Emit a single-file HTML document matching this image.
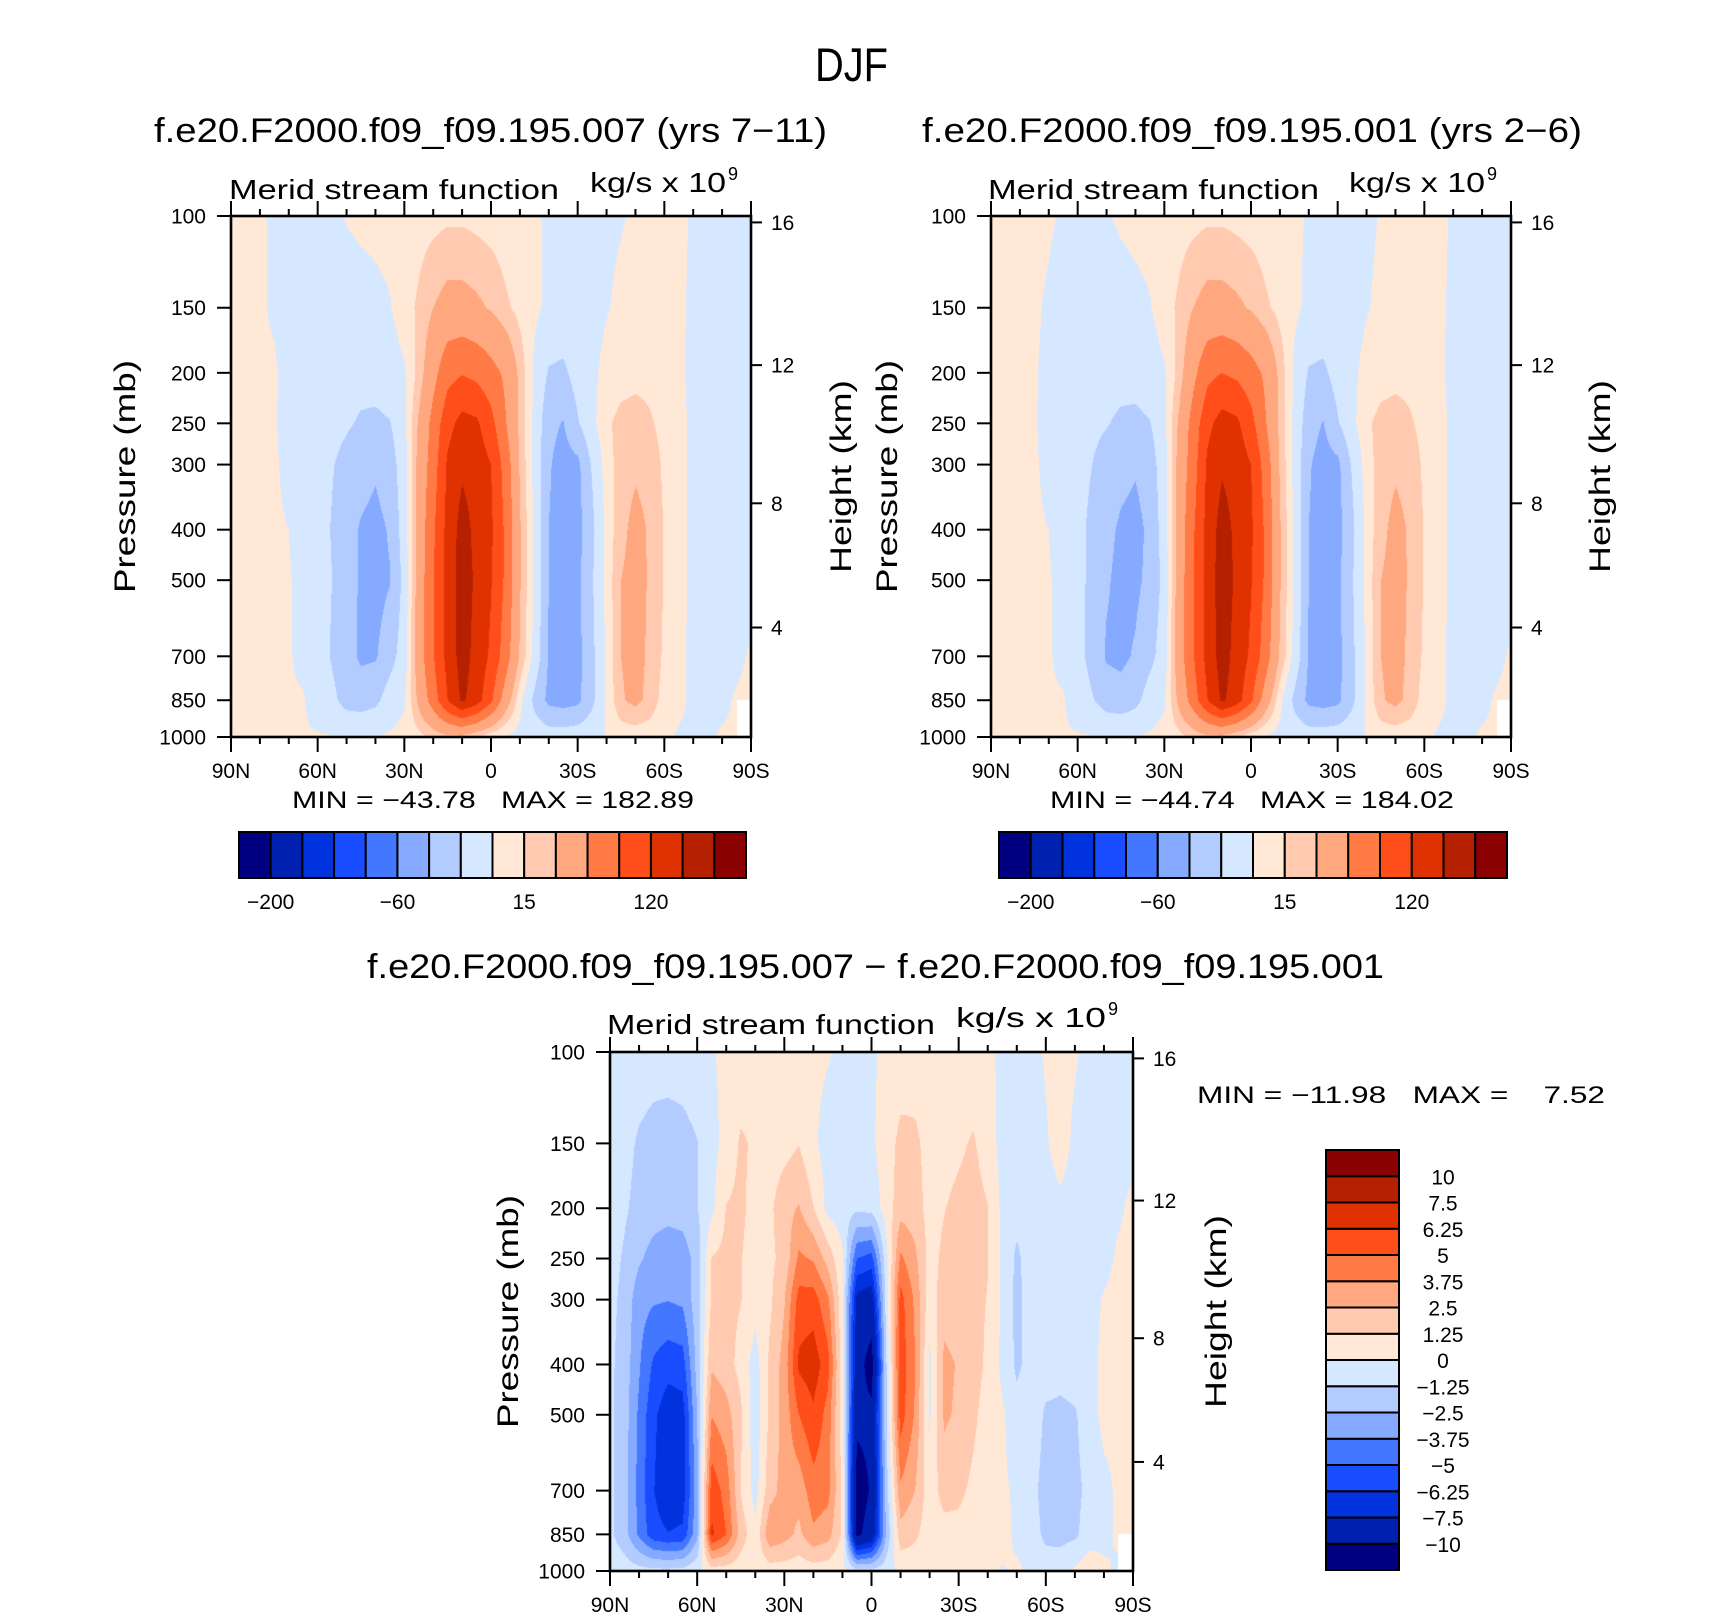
<!DOCTYPE html>
<html><head><meta charset="utf-8">
<style>
body{margin:0;background:#fff;width:1710px;height:1620px;position:relative;overflow:hidden;font-family:"Liberation Sans",sans-serif}
canvas{position:absolute}
#ov{position:absolute;left:0;top:0}
</style></head>
<body>
<canvas id="cTL"></canvas>
<canvas id="cTR"></canvas>
<canvas id="cBT"></canvas>
<svg id="ov" width="1710" height="1620"></svg>
<script>
// ---------- data ----------
const lats = [90,85,80,75,70,65,60,55,50,45,40,35,30,25,20,15,10,5,0,-5,-10,-15,-20,-25,-30,-35,-40,-45,-50,-55,-60,-65,-70,-75,-80,-85,-90];
const pressures = [100,150,200,250,300,400,500,700,850,1000];
const colors = ['#000080','#0020b0','#0033dd','#1a4cff','#4477ff','#85aaff','#b3ccff','#d6e8ff','#ffe8d6','#ffcab0','#ffa880','#ff7a45','#ff4e1a','#e03200','#b52000','#8b0000'];
const levelsTop = [-200,-150,-100,-80,-60,-40,-20,0,15,30,60,90,120,150,200];
const levelsDiff = [-10,-7.5,-6.25,-5,-3.75,-2.5,-1.25,0,1.25,2.5,3.75,5,6.25,7.5,10];
const topBarLabels = ['−200','−60','15','120'];
const diffBarLabels = ['−10','−7.5','−6.25','−5','−3.75','−2.5','−1.25','0','1.25','2.5','3.75','5','6.25','7.5','10'];
const pTicks = [100,150,200,250,300,400,500,700,850,1000];
const hTicks = [16,12,8,4];
const latTicks = [90,60,30,0,-30,-60,-90];
const latTickLabels = ['90N','60N','30N','0','30S','60S','90S'];

const fieldTL = [
[3,3,2,-2,-5,-6,-6,-4,1,3,4,5,6,8,10,12,12,10,8,6,4,2,-2,-4,-5,-4,-3,-1,2,3,3,2,-1,-3,-3,-2,-1],
[3,3,1,-1,-6,-8,-9,-9,-8,-6,-4,-1,8,18,30,38,38,34,28,18,10,3,-3,-6,-7,-5,-1,3,5,6,4,2,-2,-4,-4,-3,-2],
[3,2,1,1,-3,-8,-11,-13,-14,-14,-12,-8,-2,20,50,80,88,82,70,55,25,-3,-22,-24,-12,-3,4,8,10,10,8,3,-4,-6,-6,-5,-3],
[3,2,1,1,-4,-9,-12,-15,-18,-22,-24,-21,-5,33,70,110,130,125,100,62,25,-4,-35,-41,-22,-5,12,20,22,17,10,4,-3,-6,-6,-5,-3],
[3,2,1,1,-2,-8,-14,-19,-25,-32,-37,-30,-8,38,75,125,145,138,120,78,28,-5,-38,-48,-45,-18,8,22,27,24,12,4,-3,-6,-6,-5,-3],
[3,2,1,1,0,-7,-14,-21,-32,-42,-46,-38,-10,40,85,130,162,142,125,85,32,-3,-40,-50,-47,-25,5,25,36,28,14,4,-3,-6,-6,-5,-3],
[3,2,1,1,1,-4,-12,-20,-30,-43,-47,-41,-14,42,88,132,165,145,122,85,32,-3,-40,-50,-45,-22,5,30,37,28,14,4,-3,-6,-6,-5,-3],
[3,2,1,1,1,-3,-10,-22,-33,-43,-42,-28,-10,45,88,130,163,140,115,75,28,-5,-42,-52,-46,-25,3,30,36,27,12,3,-3,-5,-4,-2,1],
[2,2,1,1,1,1,-6,-15,-28,-30,-25,-10,-2,35,75,120,155,135,95,45,5,-25,-45,-48,-45,-25,2,28,35,25,8,2,-2,-3,-2,1,2],
[1,1,1,1,1,1,1,1,1,1,1,2,5,10,18,25,25,15,5,-2,-5,-8,-10,-10,-8,-5,1,5,6,5,1,-1,-1,-1,1,1,null]
];
const fieldTR = [
[3,3,3,3,2,-2,-5,-5,-1,2,4,5,6,8,10,12,12,10,8,6,4,2,-1,-3,-4,-4,-3,1,3,4,3,2,-1,-3,-3,-2,-1],
[3,3,3,2,-2,-7,-9,-9,-8,-6,-4,-1,8,18,30,38,38,34,28,18,10,3,-3,-6,-7,-5,-1,3,5,6,4,2,-2,-4,-4,-3,-2],
[3,3,2,1,-3,-8,-11,-13,-14,-14,-12,-8,-2,20,52,82,90,84,72,55,25,-3,-22,-24,-12,-3,4,8,10,10,8,3,-4,-6,-6,-5,-3],
[3,3,2,1,-4,-9,-12,-16,-19,-23,-25,-21,-5,33,72,112,132,126,100,62,25,-4,-32,-41,-22,-5,12,20,22,17,10,4,-3,-6,-6,-5,-3],
[3,3,2,1,-2,-8,-14,-20,-27,-34,-38,-30,-8,38,76,126,146,138,120,78,28,-5,-38,-48,-45,-18,8,22,27,24,12,4,-3,-6,-6,-5,-3],
[3,3,2,1,0,-7,-15,-24,-35,-43,-46,-36,-10,40,86,131,163,143,125,85,32,-3,-40,-50,-47,-25,5,25,36,28,14,4,-3,-6,-6,-5,-3],
[3,3,2,1,1,-4,-14,-25,-38,-45,-44,-35,-14,42,88,133,166,145,122,85,32,-3,-40,-50,-45,-22,5,30,37,28,14,4,-3,-6,-6,-5,-3],
[3,3,2,1,1,-3,-12,-28,-42,-44,-38,-26,-10,45,88,131,163,140,115,75,28,-5,-42,-52,-46,-25,3,30,36,27,12,3,-3,-5,-4,-2,1],
[2,2,2,1,1,1,-6,-18,-30,-33,-26,-10,-2,35,75,120,155,135,95,45,5,-25,-45,-48,-45,-25,2,28,35,25,8,2,-2,-3,-2,1,2],
[1,1,1,1,1,1,1,1,1,1,1,2,5,10,18,25,25,15,5,-2,-5,-8,-10,-10,-8,-5,1,5,6,5,1,-1,-1,-1,1,1,null]
];
const fieldDiff = [
[-0.5,-0.5,-0.6,-0.7,-0.7,-0.6,-0.4,-0.1,0.3,0.5,0.6,0.6,0.5,0.4,0.3,0.1,-0.3,-0.4,-0.2,0.3,0.5,0.6,0.6,0.5,0.4,0.3,0.2,-0.2,-0.4,-0.3,0.1,0.3,0.1,-0.3,-0.4,-0.4,-0.3],
[-0.5,-0.9,-1.4,-1.7,-1.8,-1.7,-1.3,-0.5,0.5,1.4,1.1,0.6,0.8,1.2,0.2,-0.5,-0.8,-0.7,-0.2,0.6,1.6,1.5,0.8,0.7,1.0,1.4,0.6,-0.4,-0.6,-0.6,-0.1,0.4,-0.2,-0.6,-0.6,-0.5,-0.4],
[-0.7,-1.1,-1.6,-1.9,-2.0,-1.9,-1.3,-0.3,1.3,1.5,0.8,1.0,2.0,2.6,1.3,-0.4,-0.7,-1.0,-0.8,0.5,2.0,1.8,0.8,1.2,1.6,1.8,1.3,-0.3,-0.8,-0.8,-0.4,-0.2,-0.4,-0.6,-0.5,-0.2,0.3],
[-0.8,-1.4,-2.3,-3.0,-3.4,-3.2,-2.0,1.3,1.6,1.3,0.7,1.0,1.6,4.0,3.6,2.0,0.2,-5.0,-5.5,-0.5,4.0,2.8,0.8,1.5,1.8,1.9,1.3,-0.3,-1.5,-0.6,-0.2,-0.2,-0.4,-0.6,-0.4,0.2,0.4],
[-0.9,-1.6,-3.3,-3.6,-3.7,-3.5,-1.8,1.4,1.6,1.3,0.5,1.0,2.4,5.5,5.6,4.0,0.3,-8.0,-8.5,-0.8,5.5,3.5,0.5,2.0,1.8,1.6,1.2,-0.2,-1.6,-0.7,-0.4,-0.3,-0.4,-0.4,0.1,0.4,0.4],
[-1.0,-1.8,-3.6,-5.2,-5.8,-5.6,-2.0,2.3,1.8,0.8,-0.6,1.5,3.0,6.5,7.0,5.5,0.5,-9.0,-11.0,-1.5,5.8,3.8,-0.3,2.8,2.4,1.8,1.0,-0.3,-1.5,-0.8,-0.5,-0.7,-0.5,-0.4,0.3,0.4,0.3],
[-1.0,-1.9,-4.0,-6.0,-7.0,-6.8,-2.5,3.7,3.0,1.5,-0.8,1.5,3.0,5.0,6.0,4.5,0.5,-9.5,-9.5,-1.5,5.6,3.6,-0.2,2.7,2.3,1.5,0.7,0.2,-0.8,-0.3,-1.5,-1.6,-1.4,-0.5,0.3,0.2,0.2],
[-1.0,-2.0,-4.2,-6.2,-7.2,-7.0,-3.0,5.8,4.5,1.2,-0.5,2.0,3.0,3.0,4.5,4.2,1.0,-11.0,-9.8,-2.0,3.5,2.5,0.5,1.8,1.5,1.0,0.5,0.2,-0.2,-0.8,-1.8,-1.8,-1.6,-0.9,-0.3,0.2,0.3],
[-1.0,-2.0,-4.0,-5.8,-6.2,-6.0,-2.8,6.5,5.0,2.0,0.3,3.5,3.0,2.2,3.5,3.0,1.0,-10.5,-9.0,-2.5,2.0,1.5,0.5,0.7,0.9,0.6,0.3,0.5,-0.3,-0.6,-1.6,-1.7,-1.5,-0.6,-0.3,0.2,0.3],
[-0.3,-0.6,-0.8,-0.9,-0.9,-0.8,-0.3,0.6,0.6,0.4,0.3,0.6,0.6,0.5,0.6,0.5,0.2,-0.8,-0.8,-0.5,0.3,0.4,0.2,0.2,0.2,0.3,0.2,-0.1,0.2,-0.2,-0.5,-0.4,0.2,0.8,0.2,-0.2,null]
];

// ---------- layout ----------
const panels = {
  tl:{x:231,y:216,w:520,h:521},
  tr:{x:991,y:216,w:520,h:521},
  bt:{x:610,y:1052,w:523,h:519}
};
const NS='http://www.w3.org/2000/svg';
const ov=document.getElementById('ov');
function xOf(pn,lat){return pn.x+(90-lat)/180*pn.w;}
function yOf(pn,p){return pn.y+(Math.log10(p)-2)*pn.h;}
function pOfHeight(km){const z=km*1000;return z<=11000?1013.25*Math.pow(1-2.25577e-5*z,5.25588):226.32*Math.exp(-(z-11000)/6341.6);}
function colorIdx(v,lev){let k=0;while(k<lev.length&&v>=lev[k])k++;return k;}
function hex(c){return [parseInt(c.substr(1,2),16),parseInt(c.substr(3,2),16),parseInt(c.substr(5,2),16)];}
const rgb=colors.map(hex);
const logP=pressures.map(p=>Math.log10(p));

function drawField(id,pn,field,lev){
  const cv=document.getElementById(id);
  cv.width=pn.w;cv.height=pn.h;cv.style.left=pn.x+'px';cv.style.top=pn.y+'px';
  const ctx=cv.getContext('2d');const img=ctx.createImageData(pn.w,pn.h);const d=img.data;
  const n=lats.length-1;
  for(let py=0;py<pn.h;py++){
    const lp=2+(py+0.5)/pn.h;
    let k=0;while(k<logP.length-2&&lp>logP[k+1])k++;
    const t=Math.min(1,Math.max(0,(lp-logP[k])/(logP[k+1]-logP[k])));
    const r0=field[k],r1=field[k+1];
    for(let px=0;px<pn.w;px++){
      const lat=90-180*(px+0.5)/pn.w;
      let f=0;while(f<n-1&&lat<lats[f+1])f++;
      const s=Math.min(1,Math.max(0,(lats[f]-lat)/(lats[f]-lats[f+1])));
      const a=r0[f],b=r0[f+1],c=r1[f],e=r1[f+1];
      const o=(py*pn.w+px)*4;
      if(a===null||b===null||c===null||e===null){d[o]=255;d[o+1]=255;d[o+2]=255;d[o+3]=255;continue;}
      const v=(a*(1-s)+b*s)*(1-t)+(c*(1-s)+e*s)*t;
      const col=rgb[colorIdx(v,lev)];
      d[o]=col[0];d[o+1]=col[1];d[o+2]=col[2];d[o+3]=255;
    }
  }
  ctx.putImageData(img,0,0);
}
drawField('cTL',panels.tl,fieldTL,levelsTop);
drawField('cTR',panels.tr,fieldTR,levelsTop);
drawField('cBT',panels.bt,fieldDiff,levelsDiff);

function mk(tag,attrs,parent){const el=document.createElementNS(NS,tag);for(const k in attrs)el.setAttribute(k,attrs[k]);(parent||ov).appendChild(el);return el;}
function txt(x,y,s,size,anchor,len){const el=mk('text',{x:x,y:y,'font-size':size,'text-anchor':anchor||'start','font-family':'Liberation Sans, sans-serif',fill:'#000'});if(len){el.setAttribute('textLength',len);el.setAttribute('lengthAdjust','spacingAndGlyphs');}el.setAttribute('xml:space','preserve');el.style.whiteSpace='pre';el.textContent=s;return el;}
function line(x1,y1,x2,y2,w){return mk('line',{x1:x1,y1:y1,x2:x2,y2:y2,stroke:'#000','stroke-width':w||2});}

function axes(pn,key){
  const g=mk('g',{});
  
  
  const fr=mk('rect',{x:pn.x,y:pn.y,width:pn.w,height:pn.h,fill:'none',stroke:'#000','stroke-width':2.6},g);
  
  
  const bot=pn.y+pn.h;
  for(let lat=90;lat>=-90;lat-=10){
    const x=xOf(pn,lat);const major=(lat%30===0);const L=major?15:7;
    const t1=line(x,pn.y,x,pn.y-L,2);g.appendChild(t1);
    
    
    const t2=line(x,bot,x,bot+L,2);g.appendChild(t2);
    
    
  }
  latTicks.forEach((lat,i)=>{
    const t=txt(xOf(pn,lat),bot+41,latTickLabels[i],21,'middle');g.appendChild(t);
    
    
  });
  pTicks.forEach(p=>{
    const y=yOf(pn,p);
    const tk=line(pn.x-14,y,pn.x,y,2);g.appendChild(tk);
    
    
    const t=txt(pn.x-25,y+7.5,String(p),21,'end');g.appendChild(t);
    
    
  });
  hTicks.forEach(h=>{
    const y=yOf(pn,pOfHeight(h));
    const tk=line(pn.x+pn.w,y,pn.x+pn.w+11,y,2);g.appendChild(tk);
    
    
    const t=txt(pn.x+pn.w+20,y+7.5,String(h),21,'start');g.appendChild(t);
    
    
  });
}
axes(panels.tl,'top-left');
axes(panels.tr,'top-right');
axes(panels.bt,'difference');

// titles
let el;
el=txt(815,81,'DJF',47,'start',73);


el=txt(154,142,'f.e20.F2000.f09_f09.195.007 (yrs 7−11)',34,'start',673);


el=txt(922,142,'f.e20.F2000.f09_f09.195.001 (yrs 2−6)',34,'start',660);


el=txt(367,978,'f.e20.F2000.f09_f09.195.007 − f.e20.F2000.f09_f09.195.001',34,'start',1017);



function subtitles(mx,mlen,kx,klen,base,key){
  let e=txt(mx,base,'Merid stream function',28,'start',mlen);
  
  
  e=txt(kx,base-7,'kg/s x 10',28,'start',klen);
  
  
  e=txt(kx+klen+2,base-19,'9',18,'start');
  
  
}
subtitles(229,330,590,136,199,'top-left');
subtitles(988,331,1349,136,199,'top-right');
subtitles(607,328,956,150,1034,'difference');

function ytitles(pn,px,hx,key){
  const cy=pn.y+pn.h/2;
  let e=txt(0,0,'Pressure (mb)',30,'middle',233);
  e.setAttribute('transform','translate('+px+','+cy+') rotate(-90)');
  
  
  e=txt(0,0,'Height (km)',30,'middle',193);
  e.setAttribute('transform','translate('+hx+','+cy+') rotate(-90)');
  
  
}
ytitles(panels.tl,135,851,'top-left');
ytitles(panels.tr,897,1610,'top-right');
ytitles(panels.bt,518,1226,'difference');

el=txt(493,808,'MIN = −43.78   MAX = 182.89',24,'middle',402);


el=txt(1252,808,'MIN = −44.74   MAX = 184.02',24,'middle',404);


el=txt(1197,1103,'MIN = −11.98   MAX =    7.52',24,'start',408);



// horizontal colorbars
function hbar(x0,x1,y0,y1,key){
  const g=mk('g',{});
  
  
  const bw=(x1-x0)/colors.length;
  colors.forEach((c,i)=>{
    const r=mk('rect',{x:x0+i*bw,y:y0,width:bw,height:y1-y0,fill:c,stroke:'#000','stroke-width':2},g);
    
    
  });
  topBarLabels.forEach((s,j)=>{
    const k=1+4*j;
    const t=txt(x0+k*bw,909,s,21,'middle');g.appendChild(t);
    
    
  });
}
hbar(239,746,832,878,'top-left');
hbar(999,1507,832,878,'top-right');

// vertical colorbar
(function(){
  const g=mk('g',{});
  
  
  const x0=1326,x1=1399,y0=1150,y1=1570;
  const bh=(y1-y0)/colors.length;
  colors.forEach((c,i)=>{
    const r=mk('rect',{x:x0,y:y1-(i+1)*bh,width:x1-x0,height:bh,fill:c,stroke:'#000','stroke-width':2},g);
    
    
  });
  diffBarLabels.forEach((s,i)=>{
    const y=y1-(i+1)*bh;
    const t=txt(1443,y+8,s,21,'middle');g.appendChild(t);
    
    
  });
})();
</script>
</body></html>
